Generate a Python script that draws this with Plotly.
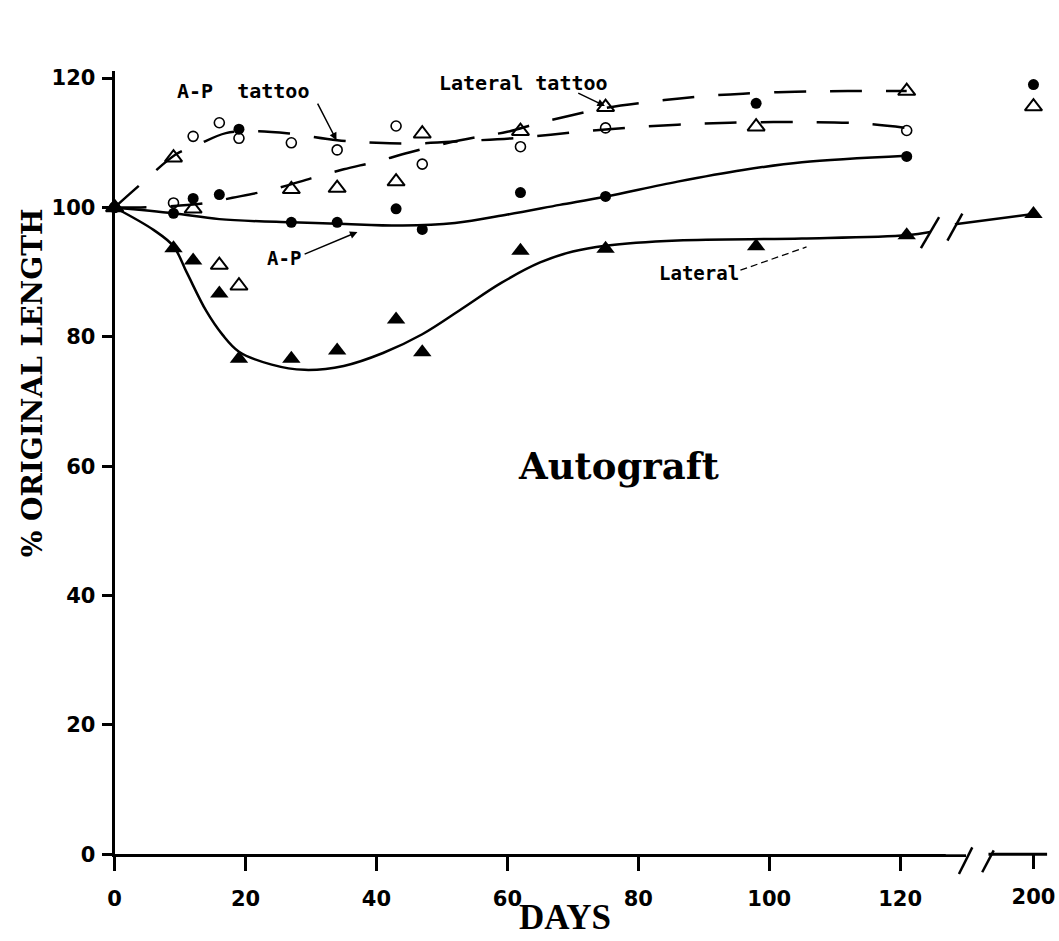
import plotly.graph_objects as go

# Measurement days; day 200 sits beyond the axis break
days = [0, 9, 12, 16, 19, 27, 34, 43, 47, 62, 75, 98, 121]
late_day = [200]

# % original length, A-P direction (filled circles)
ap_length = [100, 99.1, 101.4, 102.0, 112.1, 97.7, 97.7, 99.8, 96.6, 102.3, 101.7, 116.1, 107.9]
ap_length_late = [119.0]
# % original length, lateral direction (filled triangles)
lat_length = [100, 93.7, 91.8, 86.7, 76.6, 76.6, 77.9, 82.7, 77.6, 93.3, 93.6, 94.0, 95.7]
lat_length_late = [99.0]
# A-P tattoo (open circles)
ap_tattoo = [100, 100.7, 111.0, 113.1, 110.7, 110.0, 108.9, 112.6, 106.7, 109.4, 112.3, 121.9, 111.9]
ap_tattoo_late = [128.9]
# Lateral tattoo (open triangles)
lat_tattoo = [100, 107.7, 99.8, 91.1, 87.9, 102.8, 103.0, 104.0, 111.4, 111.8, 115.5, 112.5, 118.0]
lat_tattoo_late = [115.6]

# Hand-drawn trend curves
ap_fit_days = [0, 9, 16, 27, 34, 44, 52, 60, 68, 75, 86, 96, 105, 121]
ap_fit_vals = [100, 99.1, 98.2, 97.7, 97.5, 97.2, 97.6, 98.9, 100.4, 101.7, 104.0, 105.8, 107.0, 108.0]

lat_fit_days = [0, 6, 9, 11, 14, 16.5, 19, 24, 29, 35, 41, 47, 53, 59, 65, 70, 75, 86, 105, 121, 124.6]
lat_fit_vals = [100, 96.5, 94, 90, 84, 80.3, 77.7, 75.7, 74.9, 75.5, 77.5, 80.4, 84.3, 88.3, 91.5,
                93.2, 94.1, 94.9, 95.2, 95.7, 96.2]
lat_fit_late_days = [188, 200]
lat_fit_late_vals = [97.4, 99.0]

ap_tattoo_fit_days = [0, 4, 9.5, 12.5, 17, 22, 27, 34, 40, 46, 54, 62, 70, 78, 86, 94, 104, 114, 121]
ap_tattoo_fit_vals = [100, 103.6, 108.3, 109.6, 111.5, 111.8, 111.4, 110.4, 110.0, 109.9, 110.3, 110.8,
                      111.6, 112.3, 112.8, 113.1, 113.2, 113.0, 112.3]

lat_tattoo_fit_days = [0, 4, 10, 14, 18, 22, 26, 30, 35, 40, 45, 51, 56, 60, 65, 70, 75, 84, 90, 96,
                       104, 112, 121]
lat_tattoo_fit_vals = [100, 100, 100.3, 100.7, 101.5, 102.3, 103.3, 104.5, 105.9, 107.1, 108.5, 110,
                       111, 111.7, 113.1, 114.3, 115.4, 116.6, 117.2, 117.6, 117.9, 118, 118]

x_ticks = [0, 20, 40, 60, 80, 100, 120]
x_ticks_late = [200]
y_ticks = [0, 20, 40, 60, 80, 100, 120]

W, H = 1059, 941
INK = "black"


def pp(x, y):
    """pixel position -> paper coordinates"""
    return x / W, 1 - y / H


fig = go.Figure()

solid = dict(color=INK, width=2.5)
dashed = dict(color=INK, width=2.5, dash="32px,24px")

# trend curves
fig.add_trace(go.Scatter(x=ap_fit_days, y=ap_fit_vals, mode="lines", line=solid,
                         line_shape="spline", xaxis="x", yaxis="y", hoverinfo="skip"))
fig.add_trace(go.Scatter(x=lat_fit_days, y=lat_fit_vals, mode="lines", line=solid,
                         line_shape="spline", xaxis="x", yaxis="y", hoverinfo="skip"))
fig.add_trace(go.Scatter(x=lat_fit_late_days, y=lat_fit_late_vals, mode="lines", line=solid,
                         xaxis="x2", yaxis="y", hoverinfo="skip"))
fig.add_trace(go.Scatter(x=ap_tattoo_fit_days, y=ap_tattoo_fit_vals, mode="lines", line=dashed,
                         line_shape="spline", xaxis="x", yaxis="y", hoverinfo="skip"))
fig.add_trace(go.Scatter(x=lat_tattoo_fit_days, y=lat_tattoo_fit_vals, mode="lines", line=dashed,
                         line_shape="spline", xaxis="x", yaxis="y", hoverinfo="skip"))

# measured points
series = [
    ("A-P", ap_length, ap_length_late, dict(symbol="circle", size=11, color=INK)),
    ("Lateral", lat_length, lat_length_late, dict(symbol="triangle-up", size=16, color=INK)),
    ("A-P tattoo", ap_tattoo, ap_tattoo_late,
     dict(symbol="circle-open", size=10, color=INK, line=dict(color=INK, width=1.6))),
    ("Lateral tattoo", lat_tattoo, lat_tattoo_late,
     dict(symbol="triangle-up-open", size=15, color=INK, line=dict(color=INK, width=2))),
]
for name, vals, late, mk in series:
    fig.add_trace(go.Scatter(x=days, y=vals, mode="markers", marker=mk, name=name,
                             cliponaxis=False, xaxis="x", yaxis="y"))
    fig.add_trace(go.Scatter(x=late_day, y=late, mode="markers", marker=mk, name=name,
                             cliponaxis=False, xaxis="x2", yaxis="y"))

# geometry of the plotting area
x0_px, y0_px = 108.3, 865
px_per_day, px_per_pct = 6.59, 6.58
x1_px = 965
x2_lo_px, x2_hi_px = 945, 1059
x200_px = 1033.3
ytop_px = 68

tick_font = dict(family="DejaVu Sans", size=21, color=INK, weight=700)

fig.update_layout(
    width=W, height=H,
    margin=dict(l=0, r=0, t=0, b=0),
    paper_bgcolor="white", plot_bgcolor="white",
    showlegend=False,
    xaxis=dict(domain=[x0_px / W, x1_px / W],
               range=[0, (x1_px - x0_px) / px_per_day],
               tickvals=x_ticks, ticks="outside", ticklen=14, tickwidth=2.5, tickcolor=INK,
               showline=True, linewidth=3, linecolor=INK, showgrid=False, zeroline=False,
               tickfont=tick_font, ticklabelstandoff=10, anchor="y"),
    xaxis2=dict(domain=[x2_lo_px / W, x2_hi_px / W],
                range=[200 - (x200_px - x2_lo_px) / px_per_day, 200 + (x2_hi_px - x200_px) / px_per_day],
                tickvals=x_ticks_late, ticks="outside", ticklen=14, tickwidth=2.5, tickcolor=INK,
                showline=False, showgrid=False, zeroline=False, tickfont=tick_font,
                ticklabelstandoff=10, anchor="y"),
    yaxis=dict(domain=[1 - y0_px / H, 1 - ytop_px / H],
               range=[0, (y0_px - ytop_px) / px_per_pct],
               tickvals=y_ticks, ticks="outside", ticklen=10, tickwidth=2.5, tickcolor=INK,
               showline=True, linewidth=3, linecolor=INK, showgrid=False, zeroline=False,
               tickfont=tick_font, ticklabelstandoff=2, anchor="x"),
)

shapes = []
# x-axis after the break
a, b = pp(988, y0_px), pp(1047, y0_px)
shapes.append(dict(type="line", xref="paper", yref="paper", x0=a[0], y0=a[1], x1=b[0], y1=b[1],
                   line=dict(color=INK, width=3)))
# break marks on the axis and on the lateral curve
for (xa, ya, xb, yb) in [(971.7, 858, 958.3, 885), (993.3, 861, 981.7, 883.3),
                         (938.3, 216.7, 920, 248.3), (961.7, 213.3, 946.7, 240.7)]:
    a, b = pp(xa, ya), pp(xb, yb)
    shapes.append(dict(type="line", xref="paper", yref="paper", x0=a[0], y0=a[1], x1=b[0], y1=b[1],
                       line=dict(color=INK, width=2.5)))
# dashed leader from the "Lateral" label
shapes.append(dict(type="line", xref="x", yref="y", x0=95.6, y0=90.3, x1=105.7, y1=93.9,
                   line=dict(color=INK, width=1.3, dash="7px,4px")))
fig.update_layout(shapes=shapes)

label_font = dict(family="DejaVu Sans Mono", size=20, color=INK, weight=700)
annotations = []


def label(text, x, y, size=20):
    px_, py_ = pp(x, y)
    annotations.append(dict(text=text, x=px_, y=py_, xref="paper", yref="paper",
                            showarrow=False, xanchor="center", yanchor="middle",
                            font=dict(label_font, size=size)))


label("A-P\u00a0\u00a0tattoo", 238, 89)
label("Lateral tattoo", 520, 80)
label("A-P", 279, 258, 19)
label("Lateral", 697, 274, 19)

# arrows: (head x, head y, tail x, tail y) in data units
for hx, hy, tx, ty in [(33.9, 110.4, 30.9, 116.3), (74.9, 115.7, 70.6, 117.8), (37.1, 96.2, 28.8, 92.7)]:
    annotations.append(dict(text="", x=hx, y=hy, ax=tx, ay=ty, xref="x", yref="y",
                            axref="x", ayref="y", showarrow=True, arrowhead=2, arrowsize=1,
                            arrowwidth=1.5, arrowcolor=INK, standoff=0))

# chart text
px_, py_ = pp(616, 470)
annotations.append(dict(text="Autograft", x=px_, y=py_, xref="paper", yref="paper", showarrow=False,
                        xanchor="center", yanchor="middle",
                        font=dict(family="DejaVu Serif", size=37, color=INK, weight=700)))
px_, py_ = pp(562, 929)
annotations.append(dict(text="DAYS", x=px_, y=py_, xref="paper", yref="paper", showarrow=False,
                        xanchor="center", yanchor="middle",
                        font=dict(family="Liberation Serif", size=35, color=INK, weight=700)))
px_, py_ = pp(26, 385)
annotations.append(dict(text="% ORIGINAL LENGTH", x=px_, y=py_, xref="paper", yref="paper",
                        showarrow=False, textangle=-90, xanchor="center", yanchor="middle",
                        font=dict(family="DejaVu Serif", size=28, color=INK, weight=700)))
fig.update_layout(annotations=annotations)

fig.write_html("out.html")
